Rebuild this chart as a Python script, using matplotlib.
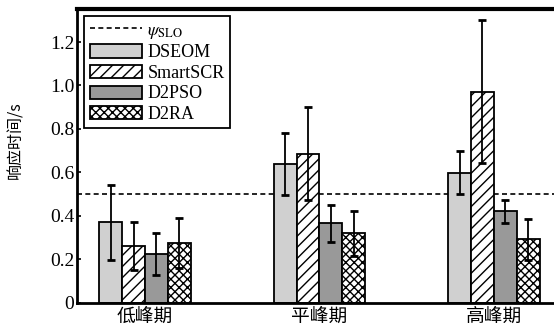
import matplotlib
matplotlib.use('Agg')
import matplotlib.pyplot as plt
import numpy as np

plt.rcParams['font.family'] = ['Liberation Serif', 'Noto Sans CJK SC']
plt.rcParams['mathtext.fontset'] = 'stix'
plt.rcParams['hatch.linewidth'] = 1.0

periods = ['低峰期', '平峰期', '高峰期']
methods = ['DSEOM', 'SmartSCR', 'D2PSO', 'D2RA']

# mean response time and error (s)
dseom = [0.37, 0.637, 0.599]
dseom_err = [0.172, 0.143, 0.097]
smartscr = [0.261, 0.686, 0.971]
smartscr_err = [0.11, 0.215, 0.33]
d2pso = [0.226, 0.365, 0.421]
d2pso_err = [0.097, 0.087, 0.054]
d2ra = [0.273, 0.319, 0.292]
d2ra_err = [0.115, 0.102, 0.094]

slo = 0.5

means = [dseom, smartscr, d2pso, d2ra]
errs = [dseom_err, smartscr_err, d2pso_err, d2ra_err]
colors = ['#d0d0d0', 'white', '#999999', 'white']
hatches = [None, '///', None, 'xxxx']

fig = plt.figure(figsize=(5.54, 3.33), dpi=100)
ax = fig.add_axes([0.139, 0.091, 0.861, 0.882])

x = np.arange(len(periods))
w = 0.131
for i in range(4):
    pos = x + (i - 1.5) * w
    ax.bar(pos, means[i], w, color=colors[i], edgecolor='black', linewidth=1.3,
           hatch=hatches[i], label=methods[i], zorder=2)
    ax.errorbar(pos, means[i], yerr=errs[i], fmt='none', ecolor='black',
                elinewidth=1.3, capsize=3, capthick=2, zorder=3)

ax.axhline(slo, color='black', linestyle=(0, (3, 2)), linewidth=1.2,
           label=r'$\psi_{\mathrm{SLO}}$', zorder=1)

ax.set_xlim(-0.39, 2.345)
ax.set_ylim(0, 1.352)
ax.set_yticks([0, 0.2, 0.4, 0.6, 0.8, 1.0, 1.2])
ax.set_yticklabels(['0', '0.2', '0.4', '0.6', '0.8', '1.0', '1.2'], fontsize=14)
ax.set_xticks(x)
ax.set_xticklabels(periods, fontsize=13.5, family=['Noto Sans CJK SC'])
ax.tick_params(axis='y', direction='in', length=3, width=1.2, pad=2)
ax.tick_params(axis='x', length=0, pad=2)
ax.set_ylabel('响应时间/s', fontsize=11.5, family=['Noto Sans CJK SC'])
ax.yaxis.set_label_coords(-0.111, 0.554)

ax.spines['right'].set_visible(False)
ax.spines['top'].set_linewidth(3)
ax.spines['left'].set_linewidth(2)
ax.spines['bottom'].set_linewidth(2)

leg = ax.legend(loc='upper left', fontsize=13, frameon=True, fancybox=False,
                edgecolor='black', framealpha=1, borderaxespad=0.4,
                handlelength=2.9, handleheight=0.75, labelspacing=0.2,
                handletextpad=0.3, borderpad=0.3)
leg.get_frame().set_linewidth(1.3)

fig.savefig('out.png', dpi=100)
